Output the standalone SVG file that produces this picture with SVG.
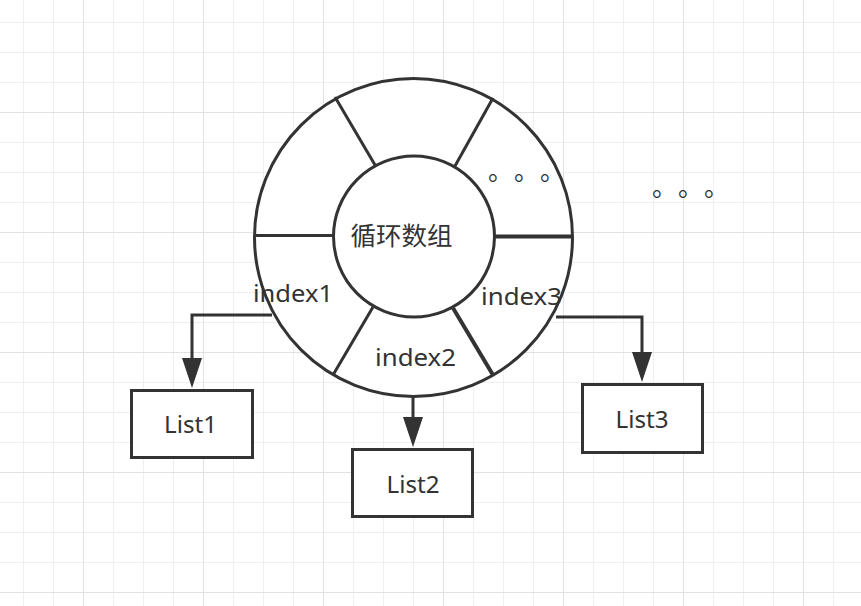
<svg xmlns="http://www.w3.org/2000/svg" width="861" height="606" viewBox="0 0 861 606">
<defs>
<pattern id="minor" patternUnits="userSpaceOnUse" x="23" y="22" width="30" height="30">
<rect x="0" y="0" width="1" height="30" fill="#efefef"/>
<rect x="0" y="0" width="30" height="1" fill="#efefef"/>
</pattern>
<pattern id="major" patternUnits="userSpaceOnUse" x="83" y="112" width="120" height="120">
<rect x="0" y="0" width="1" height="120" fill="#e2e2e2"/>
<rect x="0" y="0" width="120" height="1" fill="#e2e2e2"/>
</pattern>
<marker id="arr" markerUnits="userSpaceOnUse" markerWidth="31" markerHeight="21" refX="0" refY="10" orient="auto" viewBox="0 0 31 21" overflow="visible">
<path d="M0,0 L30,10 L0,20 Z" fill="#333"/>
</marker>
</defs>
<style>
.ln{fill:none;stroke:#333;stroke-width:3}
.thk{fill:none;stroke:#333;stroke-width:4}
.box{fill:#fff;stroke:#333;stroke-width:3}
.t{font-family:"Noto Sans","Noto Sans CJK SC",sans-serif;font-size:24px;fill:#333;text-anchor:middle}
.zh{font-family:"Noto Sans CJK SC",sans-serif;font-size:25.5px;fill:#333;text-anchor:middle}
.dots{font-family:"Noto Sans CJK SC",sans-serif;font-size:25px;fill:#333}
</style>
<rect width="861" height="606" fill="#fff"/>
<rect width="861" height="606" fill="url(#minor)"/>
<rect width="861" height="606" fill="url(#major)"/>

<g id="ring">
<circle cx="413.5" cy="237.5" r="159" fill="#fff" stroke="#333" stroke-width="3"/>
<line class="ln" x1="254" y1="235.5" x2="333" y2="235.5"/>
<line class="thk" x1="495" y1="236.5" x2="573" y2="236.5"/>
<line class="ln" x1="335" y1="97" x2="375" y2="165"/>
<line class="ln" x1="493" y1="98" x2="455" y2="166"/>
<line class="ln" x1="373" y1="307" x2="333" y2="375"/>
<line class="thk" x1="453" y1="308" x2="493" y2="375"/>
<circle cx="414" cy="236.5" r="80.5" fill="#fff" stroke="#333" stroke-width="3"/>
<text class="zh" x="401.5" y="245">循环数组</text>
<text class="t" x="293" y="302" textLength="80" lengthAdjust="spacingAndGlyphs">index1</text>
<text class="t" x="415.5" y="366" textLength="81" lengthAdjust="spacingAndGlyphs">index2</text>
<text class="t" x="521.5" y="305" textLength="81" lengthAdjust="spacingAndGlyphs">index3</text>
<text class="dots" x="488 514 540" y="180">。。。</text>
</g>

<text class="dots" x="652 678 704" y="196">。。。</text>

<g id="connectors">
<path class="ln" d="M272,315 H192 V358" marker-end="url(#arr)"/>
<path class="ln" d="M413,397 V417" marker-end="url(#arr)"/>
<path class="ln" d="M556,317 H642 V352" marker-end="url(#arr)"/>
</g>

<g id="list1">
<rect class="box" x="131.5" y="390.5" width="121" height="67"/>
<text class="t" x="190.5" y="433" textLength="53" lengthAdjust="spacingAndGlyphs">List1</text>
</g>
<g id="list2">
<rect class="box" x="352.5" y="449.5" width="120" height="67"/>
<text class="t" x="413" y="493" textLength="53" lengthAdjust="spacingAndGlyphs">List2</text>
</g>
<g id="list3">
<rect class="box" x="582.5" y="384.5" width="120" height="68"/>
<text class="t" x="642" y="428" textLength="53" lengthAdjust="spacingAndGlyphs">List3</text>
</g>
</svg>
